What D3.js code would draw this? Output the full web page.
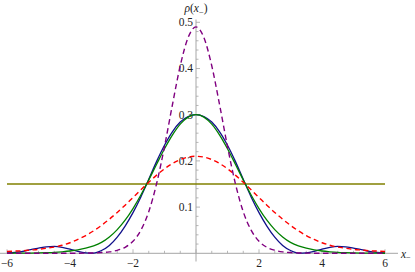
<!DOCTYPE html>
<html><head><meta charset="utf-8">
<script src="https://cdn.jsdelivr.net/npm/d3@7"></script>
<style>body{margin:0;background:#fff}svg{display:block}</style>
</head><body>
<svg id="c" width="415" height="272"></svg>
<script>
const xs = [-6,-5.75,-5.5,-5.25,-5,-4.75,-4.5,-4.25,-4,-3.75,-3.5,-3.25,-3,-2.75,-2.5,-2.25,-2,-1.75,-1.5,-1.25,-1,-0.75,-0.5,-0.25,0,
  0.25,0.5,0.75,1,1.25,1.5,1.75,2,2.25,2.5,2.75,3,3.25,3.5,3.75,4,4.25,4.5,4.75,5,5.25,5.5,5.75,6];
const blueVals = [0.001,0.002,0.004,0.008,0.011,0.014,0.015,0.013,0.009,0.004,0.001,0.0005,0.006,0.017,0.035,0.059,0.088,0.122,0.160,0.199,0.234,0.263,0.284,0.296,0.300,
  0.296,0.284,0.263,0.234,0.199,0.160,0.122,0.088,0.059,0.035,0.017,0.006,0.0005,0.001,0.004,0.009,0.013,0.015,0.014,0.011,0.008,0.004,0.002,0.001];
const greenVals = [0.0001,0.0002,0.0003,0.0005,0.0008,0.0013,0.002,0.0033,0.005,0.0075,0.011,0.016,0.0236,0.0354,0.0513,0.0717,0.0969,0.1262,0.1588,0.1929,0.2263,0.2559,0.2796,0.2948,0.300,
  0.2948,0.2796,0.2559,0.2263,0.1929,0.1588,0.1262,0.0969,0.0717,0.0513,0.0354,0.0236,0.016,0.011,0.0075,0.005,0.0033,0.002,0.0013,0.0008,0.0005,0.0003,0.0002,0.0001];
const redVals = [0.004,0.0048,0.0055,0.007,0.0085,0.011,0.0135,0.0175,0.0229,0.030,0.0385,0.0486,0.0604,0.0738,0.0884,0.1042,0.1208,0.1374,0.1537,0.1692,0.1829,0.1943,0.2029,0.2082,0.210,
  0.2082,0.2029,0.1943,0.1829,0.1692,0.1537,0.1374,0.1208,0.1042,0.0884,0.0738,0.0604,0.0486,0.0385,0.030,0.0229,0.0175,0.0135,0.011,0.0085,0.007,0.0055,0.0048,0.004];
const purpleVals = [0,0,0,0,0,0,0,0,0.0001,0.0002,0.0004,0.0008,0.0015,0.003,0.0065,0.013,0.026,0.050,0.090,0.151,0.231,0.321,0.406,0.467,0.490,
  0.467,0.406,0.321,0.231,0.151,0.090,0.050,0.026,0.013,0.0065,0.003,0.0015,0.0008,0.0004,0.0002,0.0001,0,0,0,0,0,0,0,0];
const flatVal = 0.15;
const xTicks = [-6,-4,-2,2,4,6];
const yTicks = [0.1,0.2,0.3,0.4,0.5];

const svg = d3.select('#c');
const x = d3.scaleLinear().domain([-6,6]).range([7,385]);
const y = d3.scaleLinear().domain([0,0.5]).range([253.3,22.3]);
const axisCol = '#a6a6a6';
const font = '"Liberation Serif","DejaVu Serif",serif';

// axes lines
svg.append('line').attr('x1',0).attr('x2',398).attr('y1',y(0)).attr('y2',y(0)).attr('stroke',axisCol).attr('stroke-width',1);
svg.append('line').attr('x1',x(0)).attr('x2',x(0)).attr('y1',19.5).attr('y2',261.5).attr('stroke',axisCol).attr('stroke-width',1);

// x ticks
const xMinor = d3.range(-6,6.001,0.5);
svg.selectAll('.xt').data(xMinor).enter().append('line')
  .attr('x1',d=>x(d)).attr('x2',d=>x(d))
  .attr('y1',y(0)).attr('y2',d=>y(0)-(Math.abs(d%2)<1e-9?4:2.5))
  .attr('stroke',axisCol).attr('stroke-width',0.8);
svg.selectAll('.xl').data(xTicks).enter().append('text')
  .attr('x',d=>x(d)).attr('y',267).attr('text-anchor','middle')
  .attr('font-family',font).attr('font-size',11.5).attr('fill','#222')
  .text(d=>d<0?'\u2212'+Math.abs(d):String(d));

// y ticks
const yMinor = d3.range(0.02,0.5001,0.02);
svg.selectAll('.yt').data(yMinor).enter().append('line')
  .attr('x1',x(0)).attr('x2',d=>x(0)+(Math.abs(Math.round(d*100)%10)<1e-9?4:2.5))
  .attr('y1',d=>y(d)).attr('y2',d=>y(d))
  .attr('stroke',axisCol).attr('stroke-width',0.8);
svg.selectAll('.yl').data(yTicks).enter().append('text')
  .attr('x',x(0)-3).attr('y',d=>y(d)+3.8).attr('text-anchor','end')
  .attr('font-family',font).attr('font-size',11.5).attr('fill','#222')
  .text(d=>d.toFixed(1));

// axis labels
const yl = svg.append('text').attr('x',x(0)).attr('y',12).attr('text-anchor','middle')
  .attr('font-family',font).attr('font-size',11.5).attr('fill','#222');
yl.append('tspan').attr('font-style','italic').text('\u03c1');
yl.append('tspan').text('(');
yl.append('tspan').attr('font-style','italic').text('x');
yl.append('tspan').attr('font-size',8.5).attr('dy',2.5).text('\u2212');
yl.append('tspan').attr('dy',-2.5).text(')');
const xl = svg.append('text').attr('x',401).attr('y',257.5)
  .attr('font-family',font).attr('font-size',11.5).attr('fill','#222');
xl.append('tspan').attr('font-style','italic').text('x');
xl.append('tspan').attr('font-size',8.5).attr('dy',2.5).text('\u2212');

// curves
const line = d3.line().x(d=>x(d[0])).y(d=>y(d[1])).curve(d3.curveMonotoneX);
const pts = vals => xs.map((v,i)=>[v,vals[i]]);
svg.append('path').datum([[-6,flatVal],[6,flatVal]]).attr('d',line)
  .attr('fill','none').attr('stroke','#808000').attr('stroke-width',1.3);
svg.append('path').datum(pts(blueVals)).attr('d',line)
  .attr('fill','none').attr('stroke','#10108a').attr('stroke-width',1.3);
svg.append('path').datum(pts(greenVals)).attr('d',line)
  .attr('fill','none').attr('stroke','#008000').attr('stroke-width',1.3);
svg.append('path').datum(pts(redVals)).attr('d',line)
  .attr('fill','none').attr('stroke','#ff0000').attr('stroke-width',1.4).attr('stroke-dasharray','5,3.5');
svg.append('path').datum(pts(purpleVals)).attr('d',line)
  .attr('fill','none').attr('stroke','#800080').attr('stroke-width',1.4).attr('stroke-dasharray','5.5,3.5');
</script>
</body></html>
